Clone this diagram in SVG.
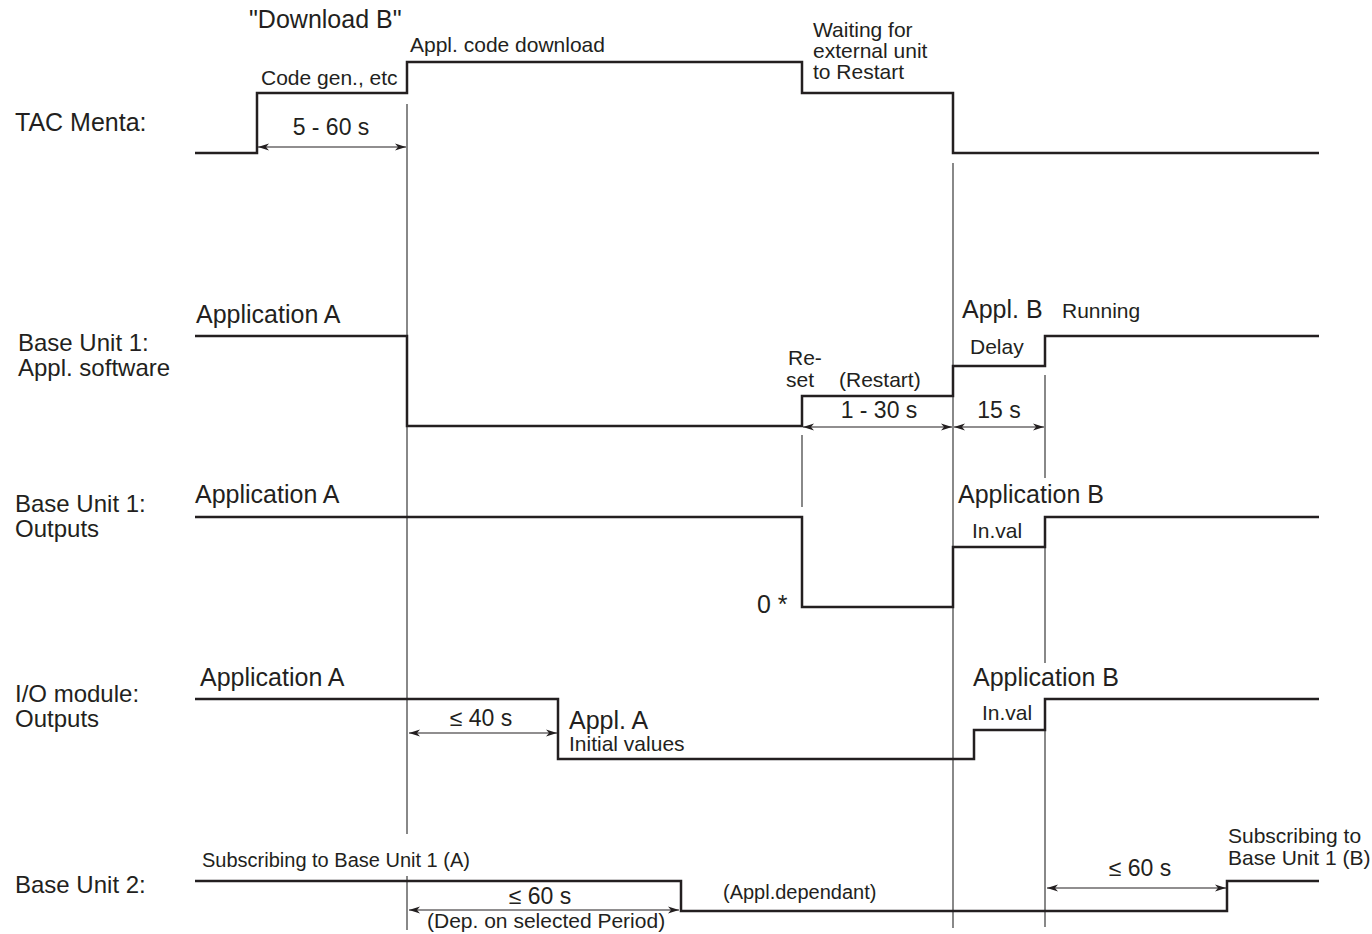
<svg xmlns="http://www.w3.org/2000/svg" width="1372" height="934" viewBox="0 0 1372 934">
  <defs>
    <style>
      text { font-family: "Liberation Sans", Arial, sans-serif; fill: #231f20; }
      .lg { font-size: 25px; }
      .lb { font-size: 24px; }
      .md { font-size: 21px; }
      .dm { font-size: 23px; }
      .sm { font-size: 20px; }
      .sig { fill: none; stroke: #231f20; stroke-width: 2.5; stroke-linejoin: miter; }
      .ref { fill: none; stroke: #3a3a3a; stroke-width: 1.2; }
      .dim { fill: none; stroke: #231f20; stroke-width: 1.2; marker-start: url(#ah); marker-end: url(#ah); }
    </style>
    <marker id="ah" markerUnits="userSpaceOnUse" markerWidth="12" markerHeight="8" refX="11" refY="4" orient="auto-start-reverse">
      <path d="M0,0.5 L11,4 L0,7.5 L3,4 z" fill="#231f20"/>
    </marker>
  </defs>
  <rect width="1372" height="934" fill="#ffffff"/>

  <!-- vertical timing references and dimension arrows -->
  <g id="connectors">
    <path class="ref" d="M407,104 V834 M407,876 V930"/>
    <path class="ref" d="M953,163 V928"/>
    <path class="ref" d="M1045,375 V478 M1045,548 V663 M1045,699 V927"/>
    <path class="ref" d="M802,435 V507"/>

    <line class="dim" x1="258" y1="147" x2="406" y2="147"/>
    <line class="dim" x1="803" y1="427" x2="952" y2="427"/>
    <line class="dim" x1="954" y1="427" x2="1044" y2="427"/>
    <line class="dim" x1="409" y1="733" x2="557" y2="733"/>
    <line class="dim" x1="409" y1="910" x2="679" y2="910"/>
    <line class="dim" x1="1047" y1="888" x2="1226" y2="888"/>

    <text class="dm" x="331" y="135" text-anchor="middle">5 - 60 s</text>
    <text class="dm" x="879" y="418" text-anchor="middle">1 - 30 s</text>
    <text class="dm" x="999" y="418" text-anchor="middle">15 s</text>
    <text class="dm" x="481" y="726" text-anchor="middle">≤ 40 s</text>
    <text class="dm" x="540" y="904" text-anchor="middle">≤ 60 s</text>
    <text class="dm" x="1140" y="876" text-anchor="middle">≤ 60 s</text>
  </g>

  <!-- TAC Menta -->
  <g id="tac-menta">
    <text class="lg" x="15" y="131">TAC Menta:</text>
    <path class="sig" d="M195,153 H257 V93 H407 V62 H802 V93 H953 V153 H1319"/>
    <text class="lg" x="249" y="28">"Download B"</text>
    <text class="md" x="410" y="52">Appl. code download</text>
    <text class="md" x="261" y="85">Code gen., etc</text>
    <text class="md" x="813" y="37">Waiting for</text>
    <text class="md" x="813" y="58">external unit</text>
    <text class="md" x="813" y="79">to Restart</text>
  </g>

  <!-- Base Unit 1: application software -->
  <g id="bu1-software">
    <text class="lb" x="18" y="351">Base Unit 1:</text>
    <text class="lb" x="18" y="376">Appl. software</text>
    <path class="sig" d="M195,336 H407 V426 H802 V396 H953 V366 H1045 V336 H1319"/>
    <text class="lg" x="196" y="323">Application A</text>
    <text class="lg" x="962" y="318">Appl. B</text>
    <text class="md" x="1062" y="318">Running</text>
    <text class="md" x="970" y="354">Delay</text>
    <text class="md" x="788" y="365">Re-</text>
    <text class="md" x="786" y="387">set</text>
    <text class="md" x="839" y="387">(Restart)</text>
  </g>

  <!-- Base Unit 1: outputs -->
  <g id="bu1-outputs">
    <text class="lb" x="15" y="512">Base Unit 1:</text>
    <text class="lb" x="15" y="537">Outputs</text>
    <path class="sig" d="M195,517 H802 V607 H953 V547 H1045 V517 H1319"/>
    <text class="lg" x="195" y="503">Application A</text>
    <text class="lg" x="958" y="503">Application B</text>
    <text class="md" x="972" y="538">In.val</text>
    <text class="lg" x="757" y="613">0 *</text>
  </g>

  <!-- I/O module: outputs -->
  <g id="io-outputs">
    <text class="lb" x="15" y="702">I/O module:</text>
    <text class="lb" x="15" y="727">Outputs</text>
    <path class="sig" d="M195,699 H558 V759 H974 V730 H1045 V699 H1319"/>
    <text class="lg" x="200" y="686">Application A</text>
    <text class="lg" x="973" y="686">Application B</text>
    <text class="md" x="982" y="720">In.val</text>
    <text class="lg" x="569" y="729">Appl. A</text>
    <text class="md" x="569" y="751">Initial values</text>
  </g>

  <!-- Base Unit 2 -->
  <g id="bu2">
    <text class="lb" x="15" y="893">Base Unit 2:</text>
    <path class="sig" d="M195,881 H681 V911 H1227 V881 H1319"/>
    <text class="sm" x="202" y="867">Subscribing to Base Unit 1 (A)</text>
    <text class="sm" x="723" y="899">(Appl.dependant)</text>
    <text class="md" x="427" y="928">(Dep. on selected Period)</text>
    <text class="md" x="1228" y="843">Subscribing to</text>
    <text class="md" x="1228" y="865">Base Unit 1 (B)</text>
  </g>
</svg>
